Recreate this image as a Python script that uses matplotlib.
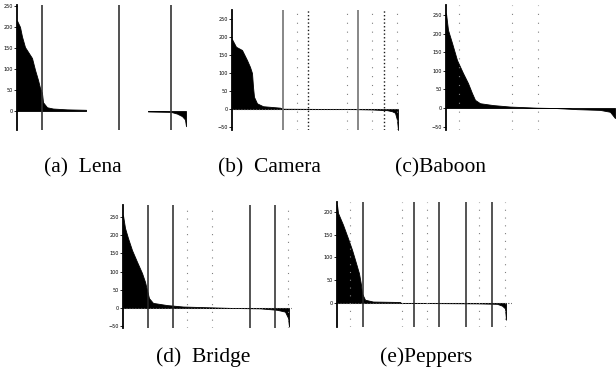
import matplotlib.pyplot as plt

# sorted coefficient curves (x = coefficient index, y = value)
lena_x = [0, 3, 5, 8, 15, 18, 21, 23, 25, 26, 30, 36, 50, 69]
lena_y = [215, 200, 177, 152, 126, 98, 74, 55, 43, 21, 9, 6, 4, 3]
lena_tail_x = [131, 154, 160, 165, 168, 169]
lena_tail_y = [-1, -2, -6, -12, -20, -36]

camera_x = [0, 4, 10, 15, 18, 20, 21, 22, 25, 31, 48, 51, 122, 140, 155, 160, 163, 165, 166]
camera_y = [194, 173, 164, 136, 117, 100, 62, 34, 16, 8, 4, 1, 0, -1, -3, -6, -10, -30, -58]

baboon_x = [0, 2, 6, 11, 17, 22, 26, 29, 34, 47, 64, 91, 110, 131, 154, 164, 169]
baboon_y = [255, 210, 175, 129, 94, 67, 40, 22, 13, 8, 4, 1, 0, -3, -5, -10, -27]

bridge_x = [0, 2, 5, 9, 14, 19, 22, 24, 26, 30, 44, 60, 110, 137, 154, 162, 165, 166]
bridge_y = [255, 220, 192, 159, 127, 96, 72, 49, 27, 14, 8, 4, 0, -1, -5, -10, -27, -51]

peppers_x = [0, 1, 6, 11, 15, 18, 20, 22, 24, 25, 28, 36, 63, 64, 140, 160, 165, 168, 169]
peppers_y = [216, 198, 172, 142, 117, 95, 80, 65, 40, 21, 7, 3, 2, 0, -1, -2, -6, -12, -37]

# block boundaries (solid) and faint scan traces (dotted)
lena_lines = [25, 102, 154]
camera_lines = [51, 126]
camera_dots = [76, 152]
camera_faint = [65, 115, 140, 165]
baboon_faint = [13, 66, 92]
bridge_lines = [25, 50, 127, 152]
bridge_faint = [64, 89, 165]
peppers_lines = [26, 77, 102, 129, 155]
peppers_faint = [13, 65, 90, 142, 168]

captions = ["(a)  Lena", "(b)  Camera", "(c)Baboon", "(d)  Bridge", "(e)Peppers"]

W, H = 616, 378
fig = plt.figure(figsize=(W / 100, H / 100), dpi=100)
fig.patch.set_facecolor("white")


def panel(l, r, t, b, ylim, ticks):
    ax = fig.add_axes([l / W, 1 - b / H, (r - l) / W, (b - t) / H])
    ax.set_xlim(0, r - l)
    ax.set_ylim(*ylim)
    for s in ["top", "right", "bottom"]:
        ax.spines[s].set_visible(False)
    ax.spines["left"].set_linewidth(1.3)
    ax.set_xticks([])
    ax.set_yticks(ticks)
    ax.tick_params(axis="y", length=2, width=0.6, pad=1, labelsize=3.5)
    return ax


def curve(ax, x, y):
    ax.fill_between(x, y, 0, color="black", lw=0.6, edgecolor="black")


def vlines(ax, xs, ls="-", color="0.2", lw=1.0):
    for v in xs:
        ax.axvline(v, ls=ls, color=color, lw=lw)


ax = panel(17, 190, 5, 130, (-45, 252), [0, 50, 100, 150, 200, 250])
curve(ax, lena_x, lena_y)
curve(ax, lena_tail_x, lena_tail_y)
vlines(ax, lena_lines, lw=1.2)

ax = panel(232, 400, 10, 130, (-58, 275), [-50, 0, 50, 100, 150, 200, 250])
ax.axhline(0, ls=":", color="0.3", lw=0.8)
curve(ax, camera_x, camera_y)
vlines(ax, camera_lines, color="0.45", lw=1.2)
vlines(ax, camera_dots, ls=":", color="0.1", lw=1.0)
vlines(ax, camera_faint, ls=(0, (1, 7)), color="0.5", lw=0.8)

ax = panel(446, 616, 5, 130, (-59, 277), [-50, 0, 50, 100, 150, 200, 250])
curve(ax, baboon_x, baboon_y)
vlines(ax, baboon_faint, ls=(0, (1, 7)), color="0.5", lw=0.8)

ax = panel(123, 292, 205, 328, (-55, 283), [-50, 0, 50, 100, 150, 200, 250])
ax.axhline(0, ls=":", color="0.3", lw=0.8)
curve(ax, bridge_x, bridge_y)
vlines(ax, bridge_lines, color="0.15", lw=1.1)
vlines(ax, bridge_faint, ls=(0, (1, 6)), color="0.5", lw=0.8)

ax = panel(337, 512, 202, 327, (-53, 222), [0, 50, 100, 150, 200])
ax.axhline(0, ls=":", color="0.3", lw=0.8)
curve(ax, peppers_x, peppers_y)
vlines(ax, peppers_lines, color="0.15", lw=1.1)
vlines(ax, peppers_faint, ls=(0, (1, 6)), color="0.5", lw=0.8)

cap_pos = [(83, 168), (269, 168), (441, 168), (203, 357), (426, 357)]
for txt, (cx, cy) in zip(captions, cap_pos):
    fig.text(cx / W, 1 - cy / H, txt, ha="center", va="center",
             fontsize=15.5, family="Liberation Serif")

fig.savefig("out.png", dpi=100, facecolor="white")
